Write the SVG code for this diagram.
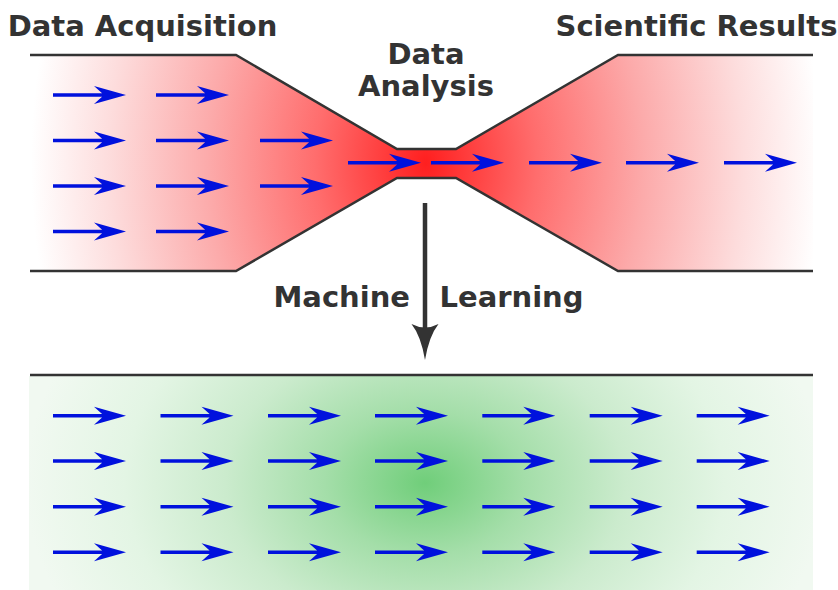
<svg xmlns="http://www.w3.org/2000/svg" xmlns:xlink="http://www.w3.org/1999/xlink" width="838" height="590" viewBox="0 0 838 590">
<style>
  .lbl { font-family: "DejaVu Sans", "Liberation Sans", sans-serif; font-weight: bold; font-size: 29px; fill: #333333; }
  .edge { fill: none; stroke: #333333; stroke-width: 2.5; stroke-linejoin: miter; }
  .flow { fill: #0011dd; }
</style>
<defs>
  <radialGradient id="redGrad" gradientUnits="userSpaceOnUse" cx="426" cy="163" r="395" gradientTransform="translate(426 163) scale(1 1.3) translate(-426 -163)">
    <stop offset="0" stop-color="#ff1f1f"/>
    <stop offset="0.28" stop-color="#ff6d6d"/>
    <stop offset="0.55" stop-color="#fcaaaa"/>
    <stop offset="0.8" stop-color="#fddcdc"/>
    <stop offset="1" stop-color="#ffffff"/>
  </radialGradient>
  <radialGradient id="greenGrad" gradientUnits="userSpaceOnUse" cx="425" cy="483" r="400" gradientTransform="translate(425 483) scale(1 0.72) translate(-425 -483)">
    <stop offset="0" stop-color="#70ce7a"/>
    <stop offset="0.25" stop-color="#a4dea9"/>
    <stop offset="0.5" stop-color="#cbebcd"/>
    <stop offset="0.75" stop-color="#e3f5e4"/>
    <stop offset="1" stop-color="#f1f9f1"/>
  </radialGradient>
  <path id="arr" d="M0,-1.7 H49.1 L41,-9 L73,0 L41,9 L49.1,1.7 H0 Z"/>
</defs>

<g id="data-pipeline">
  <path d="M30,55 H236 L397,149 H456 L618,55 H813 V271 H618 L456,178 H397 L236,271 H30 Z" fill="url(#redGrad)"/>
  <path class="edge" d="M30,55 H236 L397,149 H456 L618,55 H813"/>
  <path class="edge" d="M30,271 H236 L397,178 H456 L618,271 H813"/>
</g>

<g id="top-flow" class="flow">
  <use xlink:href="#arr" x="53" y="95"/>
  <use xlink:href="#arr" x="156" y="95"/>
  <use xlink:href="#arr" x="53" y="140.5"/>
  <use xlink:href="#arr" x="156" y="140.5"/>
  <use xlink:href="#arr" x="260" y="140.5"/>
  <use xlink:href="#arr" x="53" y="186"/>
  <use xlink:href="#arr" x="156" y="186"/>
  <use xlink:href="#arr" x="260" y="186"/>
  <use xlink:href="#arr" x="53" y="231.5"/>
  <use xlink:href="#arr" x="156" y="231.5"/>
  <use xlink:href="#arr" x="348" y="162.7"/>
  <use xlink:href="#arr" x="431" y="162.7"/>
  <use xlink:href="#arr" x="529" y="162.7"/>
  <use xlink:href="#arr" x="626" y="162.7"/>
  <use xlink:href="#arr" x="724" y="162.7"/>
</g>

<g id="machine-learning-panel">
  <rect x="29" y="376" width="784" height="214" fill="url(#greenGrad)"/>
  <path class="edge" d="M30,375 H813"/>
</g>

<g id="bottom-flow" class="flow">
  <use xlink:href="#arr" x="53" y="415.7"/><use xlink:href="#arr" x="160.5" y="415.7"/><use xlink:href="#arr" x="268" y="415.7"/><use xlink:href="#arr" x="375" y="415.7"/><use xlink:href="#arr" x="482.3" y="415.7"/><use xlink:href="#arr" x="589.7" y="415.7"/><use xlink:href="#arr" x="696.7" y="415.7"/>
  <use xlink:href="#arr" x="53" y="461"/><use xlink:href="#arr" x="160.5" y="461"/><use xlink:href="#arr" x="268" y="461"/><use xlink:href="#arr" x="375" y="461"/><use xlink:href="#arr" x="482.3" y="461"/><use xlink:href="#arr" x="589.7" y="461"/><use xlink:href="#arr" x="696.7" y="461"/>
  <use xlink:href="#arr" x="53" y="506.7"/><use xlink:href="#arr" x="160.5" y="506.7"/><use xlink:href="#arr" x="268" y="506.7"/><use xlink:href="#arr" x="375" y="506.7"/><use xlink:href="#arr" x="482.3" y="506.7"/><use xlink:href="#arr" x="589.7" y="506.7"/><use xlink:href="#arr" x="696.7" y="506.7"/>
  <use xlink:href="#arr" x="53" y="552.3"/><use xlink:href="#arr" x="160.5" y="552.3"/><use xlink:href="#arr" x="268" y="552.3"/><use xlink:href="#arr" x="375" y="552.3"/><use xlink:href="#arr" x="482.3" y="552.3"/><use xlink:href="#arr" x="589.7" y="552.3"/><use xlink:href="#arr" x="696.7" y="552.3"/>
</g>

<g id="connectors">
  <line x1="425" y1="203" x2="425" y2="334" stroke="#333333" stroke-width="4.5"/>
  <path d="M411.5,324 Q425,331 438.5,324 Q429,336 425,360 Q421,336 411.5,324 Z" fill="#333333"/>
</g>

<g id="labels">
  <text id="label-acquisition" class="lbl" x="142.5" y="35.7" text-anchor="middle">Data Acquisition</text>
  <text id="label-results" class="lbl" x="696.5" y="35.7" text-anchor="middle">Scientific Results</text>
  <text id="label-analysis" class="lbl" text-anchor="middle"><tspan x="426" y="63.5">Data</tspan><tspan x="426" y="96">Analysis</tspan></text>
  <text id="label-machine" class="lbl" x="410" y="307.3" text-anchor="end">Machine</text>
  <text id="label-learning" class="lbl" x="439.5" y="307.3">Learning</text>
</g>
</svg>
